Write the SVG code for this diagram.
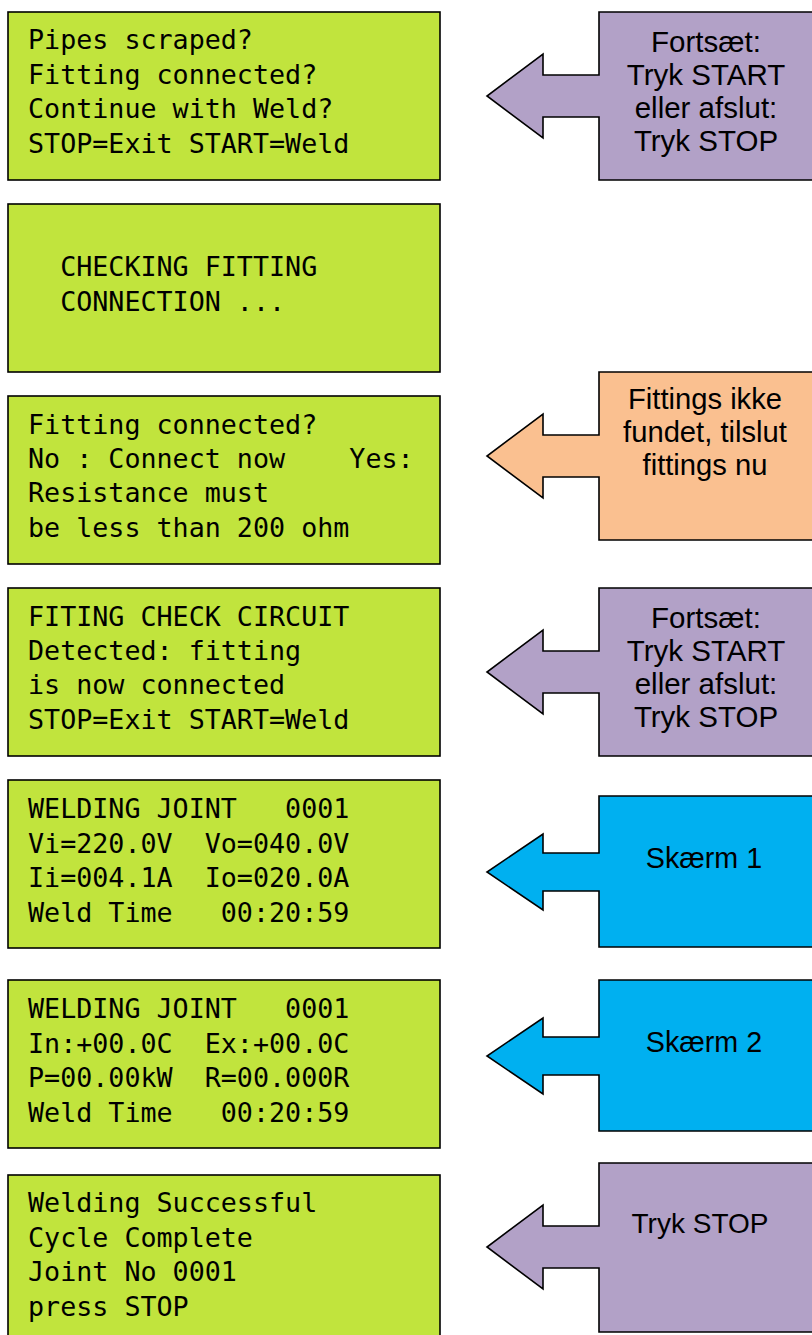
<svg xmlns="http://www.w3.org/2000/svg" width="812" height="1335" viewBox="0 0 812 1335">
<style>
.lcd{fill:#C1E43D;stroke:#000;stroke-width:1.6}
.mono{font-family:"DejaVu Sans Mono","Liberation Mono",monospace;font-size:26.7px;fill:#000;white-space:pre}
.arr{stroke:#000;stroke-width:1.6;stroke-linejoin:miter}
.purple{fill:#B2A1C7}
.orange{fill:#FAC090}
.blue{fill:#00B0F0}
.lbl{font-family:"Liberation Sans",Arial,sans-serif;font-size:28px;fill:#000;text-anchor:middle}
.big{font-size:29.5px}
.mid{font-size:29.2px}
.sk{font-size:28.7px}
</style>
<g id="connectors"></g>
<g id="lcd1">
<rect class="lcd" x="8" y="12" width="432" height="168"/>
<text class="mono" xml:space="preserve"><tspan x="28" y="49">Pipes scraped?</tspan><tspan x="28" y="83.5">Fitting connected?</tspan><tspan x="28" y="118">Continue with Weld?</tspan><tspan x="28" y="152.5">STOP=Exit START=Weld</tspan></text>
</g>
<g id="lcd2">
<rect class="lcd" x="8" y="204" width="432" height="168"/>
<text class="mono" xml:space="preserve"><tspan x="28" y="276">  CHECKING FITTING</tspan><tspan x="28" y="310.5">  CONNECTION ...</tspan></text>
</g>
<g id="lcd3">
<rect class="lcd" x="8" y="396" width="432" height="168"/>
<text class="mono" xml:space="preserve"><tspan x="28" y="434">Fitting connected?</tspan><tspan x="28" y="468">No : Connect now    Yes:</tspan><tspan x="28" y="502">Resistance must</tspan><tspan x="28" y="536.5">be less than 200 ohm</tspan></text>
</g>
<g id="lcd4">
<rect class="lcd" x="8" y="588" width="432" height="168"/>
<text class="mono" xml:space="preserve"><tspan x="28" y="626">FITING CHECK CIRCUIT</tspan><tspan x="28" y="660">Detected: fitting</tspan><tspan x="28" y="694">is now connected</tspan><tspan x="28" y="728.5">STOP=Exit START=Weld</tspan></text>
</g>
<g id="lcd5">
<rect class="lcd" x="8" y="780" width="432" height="168"/>
<text class="mono" xml:space="preserve"><tspan x="28" y="818">WELDING JOINT   0001</tspan><tspan x="28" y="852.5">Vi=220.0V  Vo=040.0V</tspan><tspan x="28" y="887">Ii=004.1A  Io=020.0A</tspan><tspan x="28" y="921.5">Weld Time   00:20:59</tspan></text>
</g>
<g id="lcd6">
<rect class="lcd" x="8" y="980" width="432" height="168"/>
<text class="mono" xml:space="preserve"><tspan x="28" y="1018">WELDING JOINT   0001</tspan><tspan x="28" y="1052.5">In:+00.0C  Ex:+00.0C</tspan><tspan x="28" y="1087">P=00.00kW  R=00.000R</tspan><tspan x="28" y="1121.5">Weld Time   00:20:59</tspan></text>
</g>
<g id="lcd7">
<rect class="lcd" x="8" y="1175" width="432" height="175"/>
<text class="mono" xml:space="preserve"><tspan x="28" y="1212">Welding Successful</tspan><tspan x="28" y="1246.5">Cycle Complete</tspan><tspan x="28" y="1281">Joint No 0001</tspan><tspan x="28" y="1315.5">press STOP</tspan></text>
</g>
<g id="callout1">
<path class="arr purple" d="M599,12 H815 V180 H599 V117 H543 V138 L487,96 L543,54 V75 H599 Z"/>
<text class="lbl big"><tspan x="706" y="51.5">Fortsæt:</tspan><tspan x="706" y="84.5">Tryk START</tspan><tspan x="706" y="117.5">eller afslut:</tspan><tspan x="706" y="150.5">Tryk STOP</tspan></text>
</g>
<g id="callout2">
<path class="arr orange" d="M599,372 H815 V540 H599 V477 H543 V498 L487,456 L543,414 V435 H599 Z"/>
<text class="lbl mid"><tspan x="705" y="409">Fittings ikke</tspan><tspan x="705" y="442">fundet, tilslut</tspan><tspan x="705" y="475">fittings nu</tspan></text>
</g>
<g id="callout3">
<path class="arr purple" d="M599,588 H815 V756 H599 V693 H543 V714 L487,672 L543,630 V651 H599 Z"/>
<text class="lbl big"><tspan x="706" y="627.5">Fortsæt:</tspan><tspan x="706" y="660.5">Tryk START</tspan><tspan x="706" y="693.5">eller afslut:</tspan><tspan x="706" y="726.5">Tryk STOP</tspan></text>
</g>
<g id="callout4">
<path class="arr blue" d="M599,796 H815 V947 H599 V891 H543 V910 L487,872 L543,834 V853 H599 Z"/>
<text class="lbl sk" x="704" y="868">Skærm 1</text>
</g>
<g id="callout5">
<path class="arr blue" d="M599,980 H815 V1131 H599 V1075 H543 V1094 L487,1056 L543,1018 V1037 H599 Z"/>
<text class="lbl sk" x="704" y="1052">Skærm 2</text>
</g>
<g id="callout6">
<path class="arr purple" d="M599,1163 H815 V1332 H599 V1268 H543 V1289 L487,1247 L543,1205 V1226 H599 Z"/>
<text class="lbl" x="700" y="1233">Tryk STOP</text>
</g>
</svg>
